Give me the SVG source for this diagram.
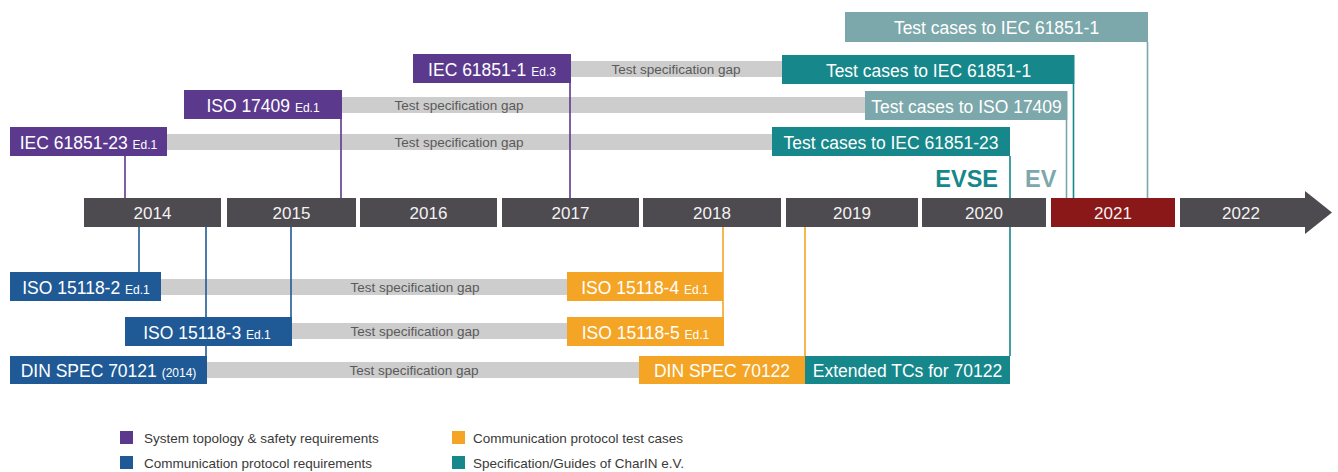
<svg xmlns="http://www.w3.org/2000/svg" width="1338" height="472" viewBox="0 0 1338 472">
<style>
text{font-family:"Liberation Sans",Arial,sans-serif}
.bt{font-size:17.5px;fill:#fff;text-anchor:middle}
.sm{font-size:12px}
.yr{font-size:17px;fill:#f2f2f2;text-anchor:middle}
.gap{fill:#cdcdcd}
.gt{font-size:13.5px;fill:#5a5a5a;text-anchor:middle}
.lg{font-size:13.5px;fill:#3a3a3a}
.pu{fill:#5b3a8e}.bl{fill:#1f5a96}.or{fill:#f4a526}.te{fill:#16878a}.lt{fill:#7ca8ab}
.yb{fill:#4d4a50}
.c{stroke-width:1.6;fill:none}
</style>
<rect width="1338" height="472" fill="#fff"/>
<g id="gaps">
<rect class="gap" x="570" y="61" width="212" height="16"/>
<text class="gt" x="676" y="74">Test specification gap</text>
<rect class="gap" x="341" y="97" width="524" height="16"/>
<text class="gt" x="459" y="110">Test specification gap</text>
<rect class="gap" x="166" y="134" width="606" height="16"/>
<text class="gt" x="459" y="147">Test specification gap</text>
<rect class="gap" x="161" y="279" width="406" height="16"/>
<text class="gt" x="415" y="292">Test specification gap</text>
<rect class="gap" x="292" y="323" width="275" height="16"/>
<text class="gt" x="415" y="336">Test specification gap</text>
<rect class="gap" x="207" y="362" width="432" height="16"/>
<text class="gt" x="414" y="375">Test specification gap</text>
</g>
<g id="connectors">
<line class="c" stroke="#5b3a8e" x1="125" y1="156" x2="125" y2="198"/>
<line class="c" stroke="#5b3a8e" x1="341" y1="119" x2="341" y2="198"/>
<line class="c" stroke="#5b3a8e" x1="570" y1="83" x2="570" y2="198"/>
<line class="c" stroke="#1f5a96" x1="139" y1="227" x2="139" y2="272"/>
<line class="c" stroke="#1f5a96" x1="206" y1="227" x2="206" y2="356"/>
<line class="c" stroke="#1f5a96" x1="291" y1="227" x2="291" y2="317"/>
<line class="c" stroke="#f4a526" x1="723" y1="227" x2="723" y2="317"/>
<line class="c" stroke="#f4a526" x1="805" y1="227" x2="805" y2="356"/>
<line class="c" stroke="#16878a" x1="1010" y1="156" x2="1010" y2="356"/>
<line class="c" stroke="#7ca8ab" x1="1066.5" y1="120" x2="1066.5" y2="198"/>
<line class="c" stroke="#16878a" x1="1073.5" y1="84" x2="1073.5" y2="198"/>
<line class="c" stroke="#7ca8ab" x1="1147.5" y1="42" x2="1147.5" y2="198"/>
</g>
<g id="tc-iec61851-1-ev"><rect class="lt" x="845" y="12" width="303" height="30"/><text class="bt" x="996.5" y="34">Test cases to IEC 61851-1</text></g>
<g id="iec61851-1"><rect class="pu" x="413" y="54" width="158" height="29"/><text class="bt" x="492" y="76">IEC 61851-1 <tspan class="sm">Ed.3</tspan></text></g>
<g id="tc-iec61851-1-evse"><rect class="te" x="782" y="55" width="292.5" height="29"/><text class="bt" x="928.5" y="77">Test cases to IEC 61851-1</text></g>
<g id="iso17409"><rect class="pu" x="184" y="90" width="158" height="29"/><text class="bt" x="263" y="112">ISO 17409 <tspan class="sm">Ed.1</tspan></text></g>
<g id="tc-iso17409"><rect class="lt" x="865" y="91" width="202.5" height="29"/><text class="bt" x="966.5" y="113">Test cases to ISO 17409</text></g>
<g id="iec61851-23"><rect class="pu" x="10" y="127" width="157" height="29"/><text class="bt" x="88.5" y="149">IEC 61851-23 <tspan class="sm">Ed.1</tspan></text></g>
<g id="tc-iec61851-23"><rect class="te" x="772" y="127" width="238" height="29"/><text class="bt" x="891" y="149">Test cases to IEC 61851-23</text></g>
<g id="labels">
<text x="998" y="187" font-size="23.5" font-weight="bold" fill="#16878a" text-anchor="end">EVSE</text>
<text x="1025" y="187" font-size="23.5" font-weight="bold" fill="#7ca8ab">EV</text>
</g>
<g id="timeline">
<rect class="yb" x="84" y="198" width="137" height="29"/><text class="yr" x="152.5" y="219">2014</text>
<rect class="yb" x="227" y="198" width="129" height="29"/><text class="yr" x="291.5" y="219">2015</text>
<rect class="yb" x="360" y="198" width="137" height="29"/><text class="yr" x="428.5" y="219">2016</text>
<rect class="yb" x="502" y="198" width="137" height="29"/><text class="yr" x="570.5" y="219">2017</text>
<rect class="yb" x="643" y="198" width="138" height="29"/><text class="yr" x="712" y="219">2018</text>
<rect class="yb" x="786" y="198" width="132" height="29"/><text class="yr" x="852" y="219">2019</text>
<rect class="yb" x="922" y="198" width="124" height="29"/><text class="yr" x="984" y="219">2020</text>
<rect x="1051" y="198" width="124" height="29" fill="#8a1818"/><text class="yr" x="1113" y="219">2021</text>
<polygon class="yb" points="1180,198 1305,198 1305,191 1332,212.5 1305,234 1305,227 1180,227"/><text class="yr" x="1241" y="219">2022</text>
</g>
<g id="iso15118-2"><rect class="bl" x="10" y="272" width="151" height="29"/><text class="bt" x="86" y="294">ISO 15118-2 <tspan class="sm">Ed.1</tspan></text></g>
<g id="iso15118-3"><rect class="bl" x="125" y="317" width="167" height="29"/><text class="bt" x="207" y="339">ISO 15118-3 <tspan class="sm">Ed.1</tspan></text></g>
<g id="din70121"><rect class="bl" x="10" y="356" width="197" height="28"/><text class="bt" x="108.5" y="377">DIN SPEC 70121 <tspan class="sm">(2014)</tspan></text></g>
<g id="iso15118-4"><rect class="or" x="567" y="272" width="156" height="29"/><text class="bt" x="645" y="294">ISO 15118-4 <tspan class="sm">Ed.1</tspan></text></g>
<g id="iso15118-5"><rect class="or" x="567" y="317" width="157" height="29"/><text class="bt" x="645.5" y="339">ISO 15118-5 <tspan class="sm">Ed.1</tspan></text></g>
<g id="din70122"><rect class="or" x="639" y="356" width="166" height="28"/><text class="bt" x="722" y="377">DIN SPEC 70122</text></g>
<g id="ext70122"><rect class="te" x="805" y="356" width="205" height="28"/><text class="bt" x="907.5" y="377">Extended TCs for 70122</text></g>
<g id="legend">
<rect class="pu" x="120" y="431" width="13" height="13"/><text class="lg" x="144" y="443">System topology &amp; safety requirements</text>
<rect class="bl" x="120" y="456" width="13" height="13"/><text class="lg" x="144" y="468">Communication protocol requirements</text>
<rect class="or" x="452" y="431" width="13" height="13"/><text class="lg" x="473" y="443">Communication protocol test cases</text>
<rect class="te" x="452" y="456" width="13" height="13"/><text class="lg" x="473" y="468">Specification/Guides of CharIN e.V.</text>
</g>
</svg>
